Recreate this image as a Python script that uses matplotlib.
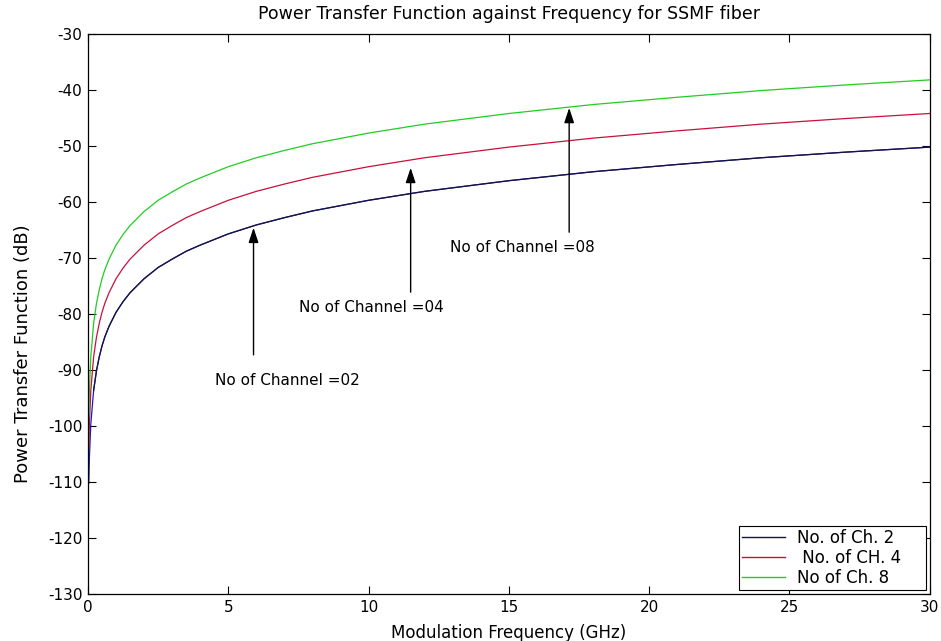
import matplotlib
matplotlib.use("Agg")
import matplotlib.pyplot as plt

plt.rcParams['font.family'] = ['DejaVu Sans']
plt.rcParams['axes.unicode_minus'] = False

# Modulation frequency (GHz) sample points
freq = [0.03, 0.05, 0.1, 0.2, 0.3, 0.4, 0.5, 0.6, 0.75, 1.0, 1.25, 1.5, 2.0, 2.5,
        3.0, 3.5, 4.0, 5.0, 6.0, 7.0, 8.0, 10.0, 12.0, 15.0, 18.0, 21.0, 24.0, 27.0, 30.0]

# Power transfer function (dB)
ch2 = [-110.2, -105.7, -99.7, -93.7, -90.2, -87.7, -85.7, -84.1, -82.2, -79.7, -77.8,
       -76.2, -73.7, -71.7, -70.2, -68.8, -67.7, -65.7, -64.1, -62.8, -61.6, -59.7,
       -58.1, -56.2, -54.6, -53.3, -52.1, -51.1, -50.2]
ch4 = [-104.2, -99.7, -93.7, -87.7, -84.2, -81.7, -79.7, -78.1, -76.2, -73.7, -71.8,
       -70.2, -67.7, -65.7, -64.2, -62.8, -61.7, -59.7, -58.1, -56.8, -55.6, -53.7,
       -52.1, -50.2, -48.6, -47.3, -46.1, -45.1, -44.2]
ch8 = [-98.2, -93.7, -87.7, -81.7, -78.2, -75.7, -73.7, -72.1, -70.2, -67.7, -65.8,
       -64.2, -61.7, -59.7, -58.2, -56.8, -55.7, -53.7, -52.1, -50.8, -49.6, -47.7,
       -46.1, -44.2, -42.6, -41.3, -40.1, -39.1, -38.2]

labels = ['No. of Ch. 2', ' No. of CH. 4', 'No of Ch. 8']

# annotations: (text, text_x, text_y, arrow_x, arrow_tail_y, arrow_head_y)
ann_text = ['No of Channel =02', 'No of Channel =04', 'No of Channel =08']
ann_tx = [7.1, 10.1, 15.5]
ann_ty = [-91.8, -78.9, -68.2]
arr_x = [5.9, 11.5, 17.15]
arr_tail = [-87.3, -76.1, -65.4]
arr_head = [-64.6, -53.9, -43.2]

fig = plt.figure(figsize=(9.41, 6.41), dpi=100)
ax = fig.add_axes([0.0935, 0.0733, 0.8945, 0.8737])

c2 = '#15153a'
c4 = '#c8103a'
c8 = '#22cc22'
ax.plot(freq, ch2, color='#1a1acc', lw=0.9)
ax.plot(freq[3:], ch2[3:], color=c2, lw=0.9)
ax.plot(freq, ch4, color=c4, lw=0.9)
ax.plot(freq, ch8, color=c8, lw=0.9)

for t, tx, ty, x, y0, y1 in zip(ann_text, ann_tx, ann_ty, arr_x, arr_tail, arr_head):
    ax.annotate('', xy=(x, y1), xytext=(x, y0),
                arrowprops=dict(arrowstyle='-|>,head_length=0.9,head_width=0.3',
                                color='black', lw=1.0, shrinkA=0, shrinkB=0))
    ax.text(tx, ty, t, ha='center', va='center', fontsize=11)

ax.set_xlim(0, 30)
ax.set_ylim(-130, -30)
ax.set_xticks(range(0, 31, 5))
ax.set_yticks(range(-130, -29, 10))
ax.tick_params(direction='in', length=6, top=True, right=True, labelsize=11, width=0.8, pad=4)
for s in ax.spines.values():
    s.set_linewidth(0.9)

ax.set_xlabel('Modulation Frequency (GHz)', fontsize=12, labelpad=7)
ax.set_ylabel('Power Transfer Function (dB)', fontsize=13, labelpad=10)
ax.yaxis.set_label_coords(-0.067, 0.43)
ax.set_title('Power Transfer Function against Frequency for SSMF fiber', fontsize=12.5, pad=11)

handles = [plt.Line2D([], [], color=c2, lw=1.0),
           plt.Line2D([], [], color=c4, lw=1.0),
           plt.Line2D([], [], color=c8, lw=1.0)]
leg = ax.legend(handles, [l + '    ' for l in labels], loc='lower right', fontsize=12,
                fancybox=False, framealpha=1, edgecolor='black', borderaxespad=0.25,
                handlelength=2.6, handletextpad=0.7, labelspacing=0.1, borderpad=0.2)
leg.get_frame().set_linewidth(0.8)

fig.savefig('out.png', dpi=100)
